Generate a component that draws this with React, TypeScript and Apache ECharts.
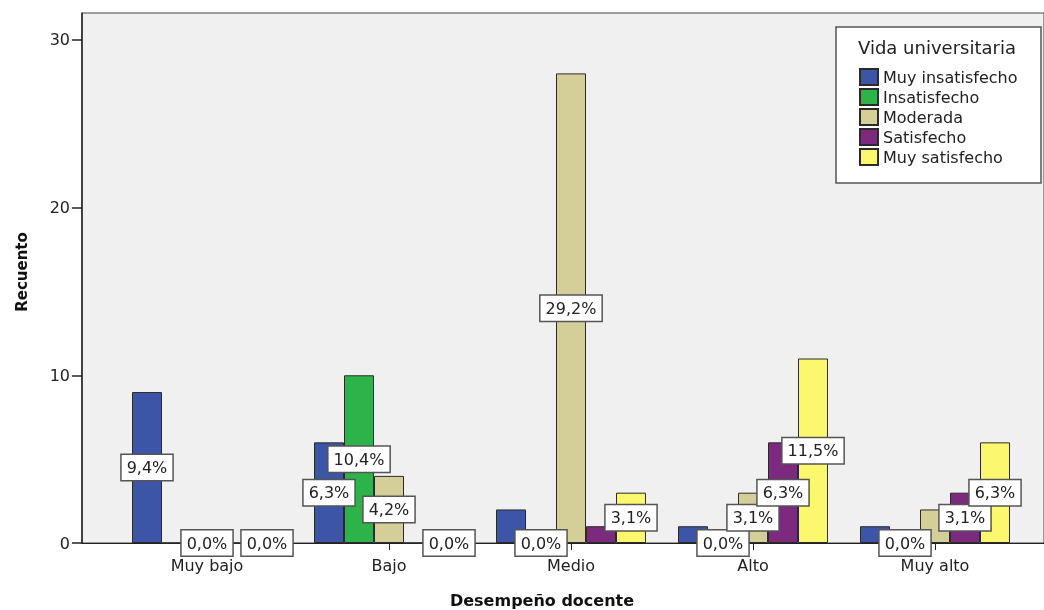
import React, { useEffect, useRef } from "react";
import * as echarts from "echarts";

const categories = ["Muy bajo", "Bajo", "Medio", "Alto", "Muy alto"];
const seriesNames = ["Muy insatisfecho", "Insatisfecho", "Moderada", "Satisfecho", "Muy satisfecho"];
const muyInsatisfecho = [9, 6, 2, 1, 1];
const insatisfecho = [0, 10, 0, 0, 0];
const moderada = [0, 4, 28, 3, 2];
const satisfecho = [0, 0, 1, 6, 3];
const muySatisfecho = [0, 0, 3, 11, 6];
// which percentage labels are visible in the reference
const showMuyInsatisfecho = [true, true, false, false, false];
const showInsatisfecho = [false, true, true, true, true];
const showModerada = [true, true, true, true, false];
const showSatisfecho = [false, false, false, true, true];
const showMuySatisfecho = [true, true, true, true, true];
const yTicks = [0, 10, 20, 30];

const colors = ["#3D55A6", "#2DB34A", "#D4CF98", "#7B2A7E", "#FBF76E"];
const FONT = "DejaVu Sans";

export default function App() {
  const ref = useRef<HTMLDivElement>(null);
  useEffect(() => {
    if (!ref.current) return;
    const chart = echarts.init(ref.current, null, { renderer: "svg" });
    const values = [muyInsatisfecho, insatisfecho, moderada, satisfecho, muySatisfecho];
    const shows = [showMuyInsatisfecho, showInsatisfecho, showModerada, showSatisfecho, showMuySatisfecho];
    const total = values.reduce((s, arr) => s + arr.reduce((a, b) => a + b, 0), 0);
    const yMax = 31.6;

    const series = values.map((arr, si) => ({
      name: seriesNames[si],
      type: "bar",
      xAxisIndex: 1,
      yAxisIndex: 1,
      barWidth: 30,
      barGap: "0%",
      itemStyle: { color: colors[si], borderColor: "#2a2a2a", borderWidth: 1 },
      label: {
        position: "inside",
        fontFamily: FONT,
        fontSize: 16,
        lineHeight: 18,
        color: "#222",
        backgroundColor: "#ffffff",
        borderColor: "#555",
        borderWidth: 1.5,
        padding: [4, 5, 3, 5],
        formatter: (p: any) => ((p.value / total) * 100).toFixed(1).replace(".", ",") + "%",
      },
      emphasis: { disabled: true },
      data: arr.map((v, i) => ({ value: v, label: { show: shows[si][i] } })),
    }));

    chart.setOption({
      animation: false,
      color: colors,
      textStyle: { fontFamily: FONT },
      grid: [
        { left: 82, top: 13, width: 970, height: 530, show: true, backgroundColor: "#f0f0f0", borderColor: "#444", borderWidth: 1, z: 0 },
        { left: 116, top: 13, width: 910, height: 530, show: false },
      ],
      xAxis: [
        {
          gridIndex: 0,
          type: "category",
          data: ["a"],
          axisLine: { show: true, lineStyle: { color: "#222", width: 1.2 } },
          axisTick: { show: false },
          axisLabel: { show: false },
          splitLine: { show: false },
        },
        {
          gridIndex: 1,
          type: "category",
          data: categories,
          axisLine: { show: false },
          axisTick: { show: true, alignWithLabel: true, length: 7, lineStyle: { color: "#222" } },
          axisLabel: { fontFamily: FONT, fontSize: 16, color: "#222", margin: 14 },
        },
      ],
      yAxis: [
        {
          gridIndex: 0,
          type: "value",
          min: 0,
          max: yMax,
          interval: 10,
          axisLine: { show: true, lineStyle: { color: "#222", width: 1.5 } },
          axisTick: { show: true, length: 10, customValues: yTicks, lineStyle: { color: "#222", width: 1.5 } },
          axisLabel: {
            fontFamily: FONT,
            fontSize: 16,
            color: "#222",
            margin: 12,
            customValues: yTicks,
          },
          splitLine: { show: false },
        },
        {
          gridIndex: 1,
          type: "value",
          min: 0,
          max: yMax,
          interval: 10,
          show: false,
          splitLine: { show: false },
        },
      ],
      legend: {
        data: seriesNames,
        orient: "vertical",
        left: 859,
        top: 68,
        icon: "rect",
        itemWidth: 18,
        itemHeight: 16,
        itemGap: 2,
        padding: 0,
        selectedMode: false,
        textStyle: { fontFamily: FONT, fontSize: 16, lineHeight: 16, color: "#222" },
        z: 20,
      },
      graphic: [
        {
          type: "rect",
          shape: { x: 836, y: 27, width: 205, height: 156 },
          style: { fill: "#ffffff", stroke: "#555", lineWidth: 1.5 },
          z: 10,
        },
        {
          type: "text",
          x: 858,
          y: 47,
          style: { text: "Vida universitaria", fontFamily: FONT, fontSize: 18, fill: "#222", verticalAlign: "middle" },
          z: 11,
        },
        {
          type: "text",
          x: 542,
          y: 600,
          style: { text: "Desempeño docente", fontFamily: FONT, fontSize: 16, fontWeight: "bold", fill: "#111", align: "center", verticalAlign: "middle" },
        },
        {
          type: "text",
          x: 22,
          y: 272,
          rotation: Math.PI / 2,
          style: { text: "Recuento", fontFamily: FONT, fontSize: 15, fontWeight: "bold", fill: "#111", align: "center", verticalAlign: "middle" },
        },
      ],
      series,
    });
    return () => chart.dispose();
  }, []);
  return <div ref={ref} style={{ position: "fixed", left: 0, top: 0, width: 1044, height: 610 }} />;
}
